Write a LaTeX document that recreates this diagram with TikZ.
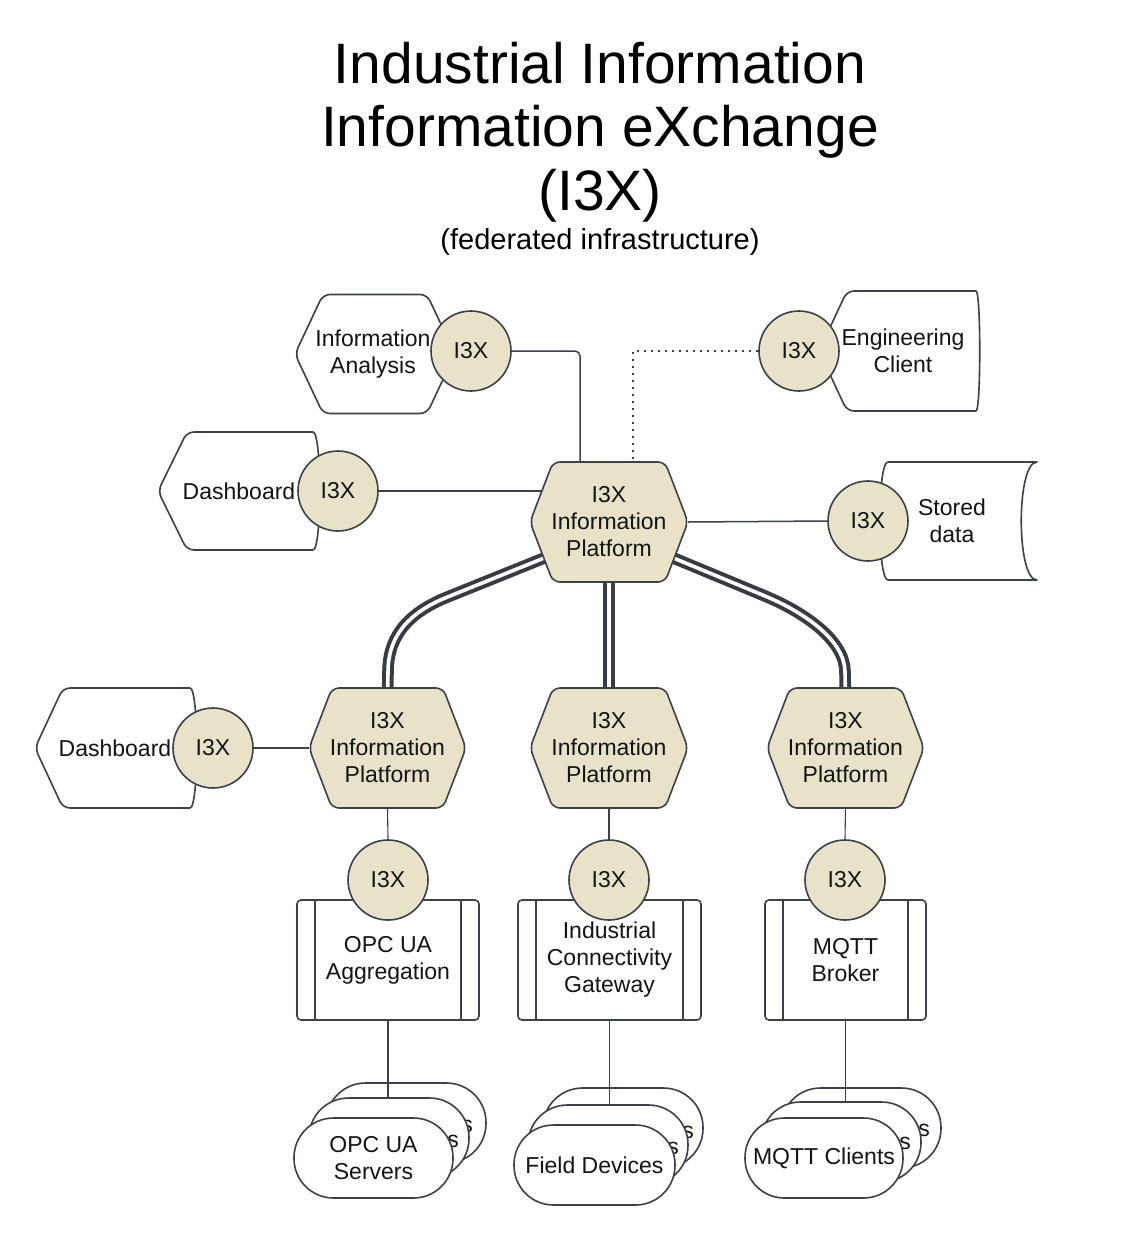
\documentclass[tikz,border=0pt]{standalone}
\usepackage{fontspec}
\setmainfont{Liberation Sans}
\usetikzlibrary{calc}
\definecolor{lineC}{RGB}{59,64,73}
\definecolor{beige}{RGB}{232,226,201}
\definecolor{dblC}{RGB}{54,59,68}
\newcommand\hexoutline[3]{\path[outline,fill=#3] (#1.west) -- ([xshift=#2pt]#1.north west) -- ([xshift=-#2pt]#1.north east) -- (#1.east) -- ([xshift=-#2pt]#1.south east) -- ([xshift=#2pt]#1.south west) -- cycle;}
\newcommand\displayoutline[4]{\path[outline,fill=#4] (#1.west) -- ([xshift=#2pt]#1.north west) -- ([xshift=-#3pt]#1.north east) .. controls ([xshift=#3pt/3]#1.north east) and ([xshift=#3pt/3]#1.south east) .. ([xshift=-#3pt]#1.south east) -- ([xshift=#2pt]#1.south west) -- cycle;}
\begin{document}
\begin{tikzpicture}[x=1pt,y=-1pt,
  lbl/.style={font=\fontsize{23}{27}\selectfont, align=center, inner sep=0pt, text=black!92},
  shapebox/.style={draw=none, rectangle, inner sep=0pt, outer sep=0pt},
  outline/.style={draw=lineC, line width=1.6pt, line join=round, rounded corners=7pt},
  iiix/.style={circle, draw=lineC, line width=1.6pt, fill=beige, minimum size=80pt, inner sep=0pt, font=\fontsize{23}{27}\selectfont, text=black!92},
  procbox/.style={rectangle, draw=lineC, line width=1.6pt, rounded corners=4pt, fill=white, minimum height=120pt, inner sep=0pt, align=center, font=\fontsize{23}{27}\selectfont, text=black!92},
  stadium/.style={rectangle, draw=lineC, line width=1.6pt, fill=white, rounded corners=39.5pt, minimum width=160pt, minimum height=80pt, inner sep=0pt, align=center, font=\fontsize{23}{27}\selectfont, text=black!92},
  innerline/.style={draw=lineC, line width=1.6pt},
  conn/.style={draw=lineC, line width=1.5pt, rounded corners=5pt},
  thinconn/.style={draw=lineC, line width=1.1pt},
  dotconn/.style={draw=lineC, line width=2pt, dash pattern=on 2pt off 5pt},
  dbl/.style={draw=dblC, double=white, double distance=3.6pt, line width=4pt, line join=round}
]
\fill[white] (0,0) rectangle (1127,1243);
\useasboundingbox (0,0) rectangle (1127,1243);

% title
\node[font=\fontsize{57}{63.5}\selectfont, align=center, inner sep=0pt] (title) at (600,132) {Industrial Information\\Information eXchange\\(I3X)};
\node[font=\fontsize{29}{34}\selectfont, inner sep=0pt] (subtitle) at (600,242) {(federated infrastructure)};

% invisible shape frames
\node[shapebox, minimum width=158pt, minimum height=120pt] (hub) at (609,522) {};
\node[shapebox, minimum width=157pt, minimum height=120pt] (pl) at (387.5,748) {};
\node[shapebox, minimum width=158pt, minimum height=120pt] (pm) at (609,748) {};
\node[shapebox, minimum width=157pt, minimum height=120pt] (pr) at (845.5,748) {};
\node[shapebox, minimum width=160pt, minimum height=119pt] (ia) at (375,354) {};
\node[shapebox, minimum width=159pt, minimum height=120pt] (ec) at (898.5,351) {};
\node[shapebox, minimum width=160pt, minimum height=118pt] (db1) at (238,491) {};
\node[shapebox, minimum width=160pt, minimum height=120pt] (db2) at (115,748) {};
\node[shapebox, minimum width=157pt, minimum height=118pt] (sd) at (958.5,521) {};

% federation double links
\draw[dbl] ($(hub.center)+(-50,30)$) -- (445,598) .. controls (402,616) and (388,642) .. (388,672) -- ($(pl.north)+(0,10)$);
\draw[dbl] (hub.center) -- ($(pm.north)+(0,10)$);
\draw[dbl] ($(hub.center)+(50,30)$) -- (765,596) .. controls (808,614) and (845,642) .. (845,672) -- ($(pr.north)+(0,10)$);

% shapes
\hexoutline{hub}{23}{beige}
\hexoutline{pl}{23}{beige}
\hexoutline{pm}{23}{beige}
\hexoutline{pr}{23}{beige}
\hexoutline{ia}{28}{white}
\displayoutline{ec}{28}{9}{white}
\displayoutline{db1}{29}{12}{white}
\displayoutline{db2}{28}{12}{white}
\path[draw=lineC, line width=1.6pt, line join=round, fill=white] (sd.north) -- (sd.north east) .. controls ([xshift=-21pt]sd.north east) and ([xshift=-21pt]sd.south east) .. (sd.south east) -- ([xshift=8pt]sd.south west) .. controls ([xshift=-3pt]sd.south west) and ([xshift=-3pt]sd.north west) .. ([xshift=8pt]sd.north west) -- cycle;

% labels of shapes
\node[lbl] (hubT) at (hub) {I3X\\Information\\Platform};
\node[lbl] (plT) at (pl) {I3X\\Information\\Platform};
\node[lbl] (pmT) at (pm) {I3X\\Information\\Platform};
\node[lbl] (prT) at (pr) {I3X\\Information\\Platform};
\node[lbl] (iaT) at (373,354) {Information\\Analysis};
\node[lbl] (ecT) at (903,351) {Engineering\\Client};
\node[lbl] (db1T) at (239,491) {Dashboard};
\node[lbl] (db2T) at (115,748) {Dashboard};
\node[lbl] (sdT) at (952,521) {Stored\\data};

% process boxes
\node[procbox, minimum width=182pt] (opc) at (388,960) {OPC UA\\Aggregation};
\node[procbox, minimum width=183pt] (icg) at (609.5,960) {Industrial\\Connectivity\\Gateway};
\node[procbox, minimum width=161pt] (mq) at (845.5,960) {MQTT\\Broker};
\foreach \b in {opc,icg,mq}{
  \draw[innerline] ([xshift=19pt]\b.north west) -- ([xshift=19pt]\b.south west);
  \draw[innerline] ([xshift=-19pt]\b.north east) -- ([xshift=-19pt]\b.south east);
}

% I3X circles
\node[iiix] (cIA) at (471,351) {I3X};
\node[iiix] (cEC) at (799,351) {I3X};
\node[iiix] (cDB1) at (338,491) {I3X};
\node[iiix] (cSD) at (868,521) {I3X};
\node[iiix] (cDB2) at (213,748) {I3X};
\node[iiix] (cPL) at (388,880) {I3X};
\node[iiix] (cPM) at (609,880) {I3X};
\node[iiix] (cPR) at (845,880) {I3X};

% stacks
\node[stadium] (opcS3) at (406,1123) {};
\node[lbl] (opcS3T) at (467,1126) {s};
\node[stadium] (opcS2) at (389,1138) {};
\node[lbl] (opcS2T) at (453,1141) {s};
\draw[thinconn] (opc.south) -- (opcS2.north -| opc.south);
\node[stadium, minimum width=159pt] (opcS1) at (373.5,1158) {OPC UA\\Servers};

\node[stadium] (fdS3) at (623,1128) {};
\node[lbl] (fdS3T) at (688,1132) {s};
\node[stadium] (fdS2) at (608,1145) {};
\node[lbl] (fdS2T) at (673,1148) {s};
\draw[thinconn] (icg.south) -- (fdS2.north -| icg.south);
\node[stadium, minimum width=161pt] (fdS1) at (594.5,1165) {Field Devices};

\node[stadium] (mqS3) at (861,1128) {};
\node[lbl] (mqS3T) at (924,1130) {s};
\node[stadium] (mqS2) at (841,1142) {};
\node[lbl] (mqS2T) at (905,1143) {s};
\draw[thinconn] (mq.south) -- (mqS2.north -| mq.south);
\node[stadium, minimum width=158pt] (mqS1) at (824,1158) {MQTT Clients};

% connectors
\draw[conn] (cIA.east) -| ([xshift=-29pt]hub.north);
\draw[dotconn] (cEC.west) -| ([xshift=24pt]hub.north);
\coordinate (hubL) at ($(hub.west)+(12,-31)$);
\draw[conn] (cDB1.east) -- (cDB1.east -| hubL);
\draw[conn] (hub.east) -- (cSD.west);
\draw[thinconn] (cDB2.east) -- (pl.west);
\draw[thinconn] (pl.south) -- (cPL.north);
\draw[thinconn] (pm.south) -- (cPM.north);
\draw[thinconn] (pr.south) -- (cPR.north);
\end{tikzpicture}
\end{document}
